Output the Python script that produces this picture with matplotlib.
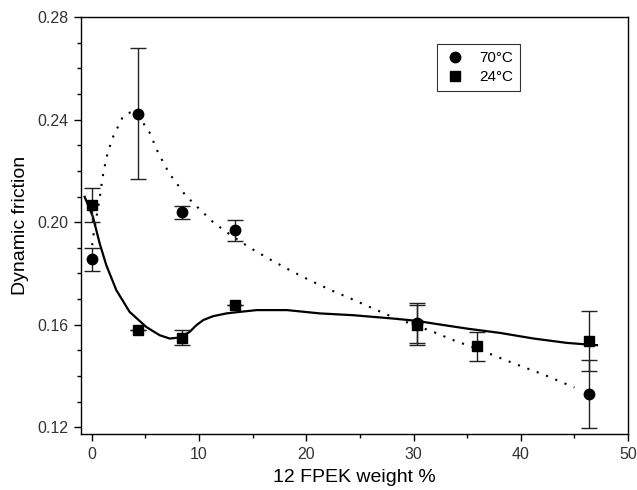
import matplotlib
matplotlib.use("Agg")
import matplotlib.pyplot as plt
from matplotlib.lines import Line2D
from matplotlib.ticker import MultipleLocator

plt.rcParams['font.family'] = ['Liberation Sans', 'DejaVu Sans']

# measured points, 70 C (circles)
x_70 = [0.0, 4.32, 8.46, 13.34, 30.35, 46.4]
y_70 = [0.1856, 0.2424, 0.2038, 0.1969, 0.1605, 0.1330]
err_70 = [0.0045, 0.0256, 0.0027, 0.0041, 0.0078, 0.0133]

# measured points, 24 C (squares)
x_24 = [0.0, 4.32, 8.46, 13.4, 30.35, 35.9, 46.4]
y_24 = [0.2066, 0.1581, 0.1550, 0.1676, 0.1600, 0.1516, 0.1537]
err_24 = [0.0067, 0.0, 0.0031, 0.0, 0.0078, 0.0057, 0.0116]

# fitted trend, 70 C (dotted)
fit70_x = [0.05, 0.12, 0.43, 0.75, 1.0, 1.37, 1.93, 2.86, 3.3, 3.85, 4.63, 5.41,
           6.19, 7.21, 7.9, 8.58, 9.45, 10.38, 11.3, 12.25, 14.06, 15.05, 16.91,
           18.78, 20.64, 22.51, 24.37, 26.24, 28.05, 30.0, 31.84, 33.7, 36.5,
           38.37, 40.24, 42.1, 43.97, 45.0]
fit70_y = [0.1910, 0.1936, 0.2016, 0.2093, 0.2170, 0.2251, 0.2327, 0.2407, 0.2425,
           0.2430, 0.2398, 0.2349, 0.2272, 0.2192, 0.2153, 0.2114, 0.2075, 0.2038,
           0.2001, 0.1971, 0.1919, 0.1893, 0.1848, 0.1806, 0.1767, 0.1731, 0.1698,
           0.1663, 0.1630, 0.1600, 0.1572, 0.1540, 0.1497, 0.1465, 0.1435, 0.1406,
           0.1373, 0.1355]

# fitted trend, 24 C (solid)
fit24_x = [-0.65, 0.12, 0.75, 1.37, 2.3, 3.54, 5.1, 6.34, 7.28, 8.2, 9.14, 9.76,
           10.4, 11.3, 12.56, 13.8, 15.4, 18.2, 21.3, 24.4, 28.1, 30.3, 31.8,
           34.95, 38.06, 41.2, 44.3, 47.1]
fit24_y = [0.2099, 0.2021, 0.1917, 0.1832, 0.1735, 0.1650, 0.1591, 0.1559, 0.1546,
           0.1550, 0.1572, 0.1598, 0.1618, 0.1633, 0.1644, 0.1650, 0.1657, 0.1657,
           0.1644, 0.1637, 0.1624, 0.1615, 0.1605, 0.1585, 0.1568, 0.1546, 0.1529,
           0.1520]

fig = plt.figure(figsize=(6.37, 4.90), dpi=100)
ax = fig.add_axes([0.127, 0.114, 0.859, 0.851])

ax.plot(fit70_x, fit70_y, color='black', lw=1.5, linestyle=(0, (1, 3.8)))
ax.plot(fit24_x, fit24_y, color='black', lw=1.6)

ax.errorbar(x_70, y_70, yerr=err_70, fmt='o', color='black', ms=7.5,
            ecolor='#222222', elinewidth=1.0, capsize=5.5, capthick=1.0)
ax.errorbar(x_24, y_24, yerr=err_24, fmt='s', color='black', ms=6.8,
            ecolor='#222222', elinewidth=1.0, capsize=5.5, capthick=1.0)

ax.set_xlim(-1.0, 50)
ax.set_ylim(0.1173, 0.28)
ax.xaxis.set_major_locator(MultipleLocator(10))
ax.xaxis.set_minor_locator(MultipleLocator(5))
ax.yaxis.set_minor_locator(MultipleLocator(0.01))
ax.set_yticks([0.12, 0.16, 0.20, 0.24, 0.28])
ax.set_yticklabels(['0.12', '0.16', '0.20', '0.24', '0.28'])

ax.tick_params(which='major', direction='out', length=5, width=1.0,
               labelsize=11.5, labelcolor='#333333', pad=4)
ax.tick_params(which='minor', direction='out', length=3, width=1.0)
for s in ax.spines.values():
    s.set_linewidth(1.0)

ax.set_xlabel('12 FPEK weight %', fontsize=14, labelpad=5)
ax.set_ylabel('Dynamic friction', fontsize=14, labelpad=6)

handles = [Line2D([], [], marker='o', color='black', linestyle='none', ms=7.5),
           Line2D([], [], marker='s', color='black', linestyle='none', ms=6.8)]
leg = ax.legend(handles, ['70°C', '24°C'], loc='upper left',
                bbox_to_anchor=(0.651, 0.935), borderaxespad=0, fontsize=11,
                frameon=True, fancybox=False, edgecolor='black',
                handletextpad=0.8, borderpad=0.45, labelspacing=0.35,
                handlelength=1.5)
leg.get_frame().set_linewidth(0.8)

fig.savefig('out.png', dpi=100)
